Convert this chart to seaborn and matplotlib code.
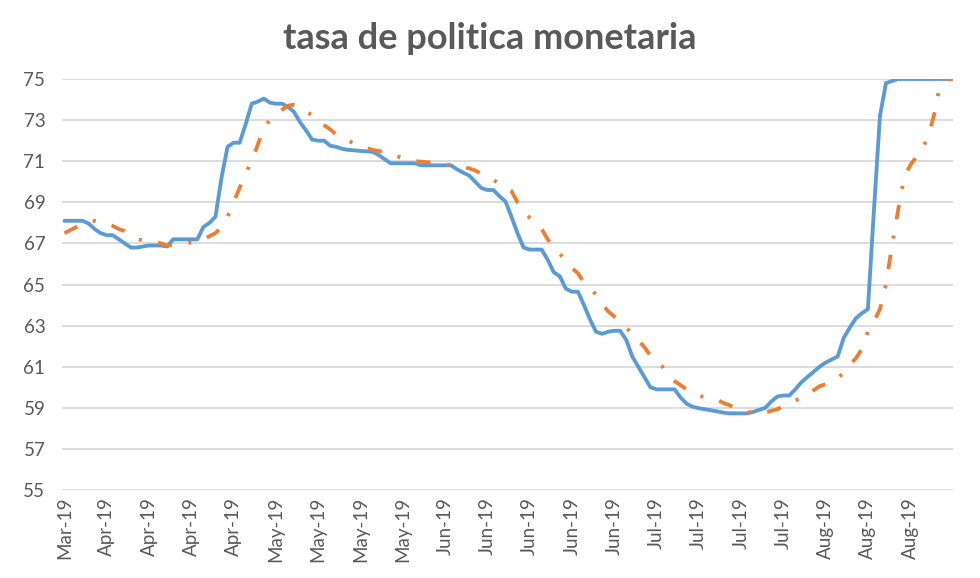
import numpy as np
import pandas as pd
import matplotlib
matplotlib.use("Agg")
import matplotlib.pyplot as plt
import seaborn as sns

# daily policy rate (blue) and its smoothed version (orange)
tasa = [
    68.1, 68.1, 68.1, 68.1, 67.97, 67.7, 67.5, 67.4, 67.4, 67.2,
    67.0, 66.8, 66.8, 66.85, 66.9, 66.9, 66.9, 66.85, 67.2, 67.2,
    67.2, 67.2, 67.2, 67.8, 68.0, 68.3, 70.2, 71.7, 71.9, 71.9,
    72.8, 73.8, 73.9, 74.05, 73.85, 73.8, 73.8, 73.65, 73.4, 72.9,
    72.5, 72.05, 72.0, 72.0, 71.75, 71.7, 71.6, 71.55, 71.53, 71.5,
    71.48, 71.46, 71.3, 71.1, 70.9, 70.9, 70.9, 70.9, 70.9, 70.8,
    70.8, 70.8, 70.8, 70.8, 70.8, 70.6, 70.45, 70.3, 70.0, 69.7,
    69.6, 69.6, 69.3, 69.05, 68.3, 67.5, 66.8, 66.7, 66.7, 66.7,
    66.2, 65.6, 65.4, 64.8, 64.65, 64.65, 64.0, 63.3, 62.7, 62.6,
    62.7, 62.75, 62.75, 62.3, 61.5, 61.0, 60.5, 60.0, 59.9, 59.9,
    59.9, 59.9, 59.5, 59.2, 59.05, 58.98, 58.93, 58.88, 58.83, 58.77,
    58.73, 58.73, 58.73, 58.73, 58.8, 58.9, 59.0, 59.3, 59.55, 59.6,
    59.6, 59.9, 60.25, 60.5, 60.75, 61.0, 61.2, 61.35, 61.5, 62.4,
    62.9, 63.35, 63.6, 63.8, 68.6, 73.2, 74.8, 74.9, 75.0, 75.0,
    75.0, 75.0, 75.0, 75.0, 75.0, 75.0, 75.0, 75.0,
]

promedio = [
    67.5, 67.65, 67.8, 67.95, 68.05, 68.1, 68.05, 67.95, 67.85, 67.7,
    67.6, 67.4, 67.2, 67.15, 67.1, 67.05, 67.0, 66.9, 66.95, 67.0,
    67.0, 67.05, 67.1, 67.2, 67.35, 67.5, 67.8, 68.3, 69.0, 69.7,
    70.4, 71.0, 71.8, 72.6, 73.0, 73.25, 73.5, 73.7, 73.75, 73.65,
    73.4, 73.25, 73.0, 72.75, 72.55, 72.3, 72.1, 72.0, 71.85, 71.75,
    71.65, 71.55, 71.5, 71.45, 71.4, 71.25, 71.15, 71.05, 71.0, 70.98,
    70.95, 70.92, 70.9, 70.85, 70.8, 70.75, 70.7, 70.65, 70.55, 70.4,
    70.3, 70.1, 69.9, 69.75, 69.55, 69.0, 68.6, 68.25, 67.95, 67.7,
    67.2, 66.8, 66.5, 66.15, 65.8, 65.55, 65.1, 64.85, 64.5, 64.05,
    63.7, 63.45, 63.2, 62.9, 62.6, 62.3, 61.95, 61.55, 61.3, 61.0,
    60.6, 60.3, 60.1, 59.9, 59.7, 59.58, 59.53, 59.48, 59.4, 59.25,
    59.14, 59.0, 58.88, 58.8, 58.76, 58.73, 58.78, 58.85, 58.93, 59.08,
    59.23, 59.35, 59.5, 59.62, 59.85, 60.05, 60.15, 60.3, 60.45, 60.7,
    61.1, 61.4, 61.85, 62.7, 63.2, 63.8, 65.0, 66.9, 68.6, 70.2,
    70.8, 71.2, 71.6, 72.2, 73.3, 74.8, 75.0, 75.0,
]

tick_labels = ["Mar-19"] + ["Apr-19"] * 4 + ["May-19"] * 4 + ["Jun-19"] * 5 \
    + ["Jul-19"] * 4 + ["Aug-19"] * 3
tick_step = 7
y_ticks = list(range(55, 76, 2))

df = pd.DataFrame({"dia": np.arange(len(tasa)), "tasa": tasa, "promedio": promedio})

sns.set_style("white")
plt.rcParams["font.family"] = ["Lato", "DejaVu Sans"]

fig = plt.figure(figsize=(9.8, 5.78), dpi=100)
ax = fig.add_axes([0.0633, 0.1522, 0.9092, 0.7111])

grey = "#595959"
for y in y_ticks:
    ax.axhline(y, color="#d9d9d9", linewidth=1.3, zorder=0)

sns.lineplot(data=df, x="dia", y="tasa", ax=ax, color="#5b9bd5", linewidth=2.75)
sns.lineplot(data=df, x="dia", y="promedio", ax=ax, color="#ed7d31", linewidth=2.75,
             linestyle=(0, (3.8, 4.3, 0.8, 4.3)))

ax.set_xlim(-0.4, len(tasa) - 0.9)
ax.set_ylim(55, 75)
ax.set_yticks(y_ticks)
ax.set_xticks(range(0, tick_step * len(tick_labels), tick_step))
ax.set_xticklabels(tick_labels, rotation=90)
ax.tick_params(axis="both", length=0, labelsize=13.5, labelcolor=grey)
ax.tick_params(axis="y", pad=12)
ax.tick_params(axis="x", pad=5)
ax.set_xlabel("")
ax.set_ylabel("")
sns.despine(ax=ax, left=True, bottom=True)

fig.suptitle("tasa de politica monetaria", x=0.5, y=0.962, fontsize=26,
             fontweight="bold", color=grey)

fig.savefig("out.png", dpi=100)
